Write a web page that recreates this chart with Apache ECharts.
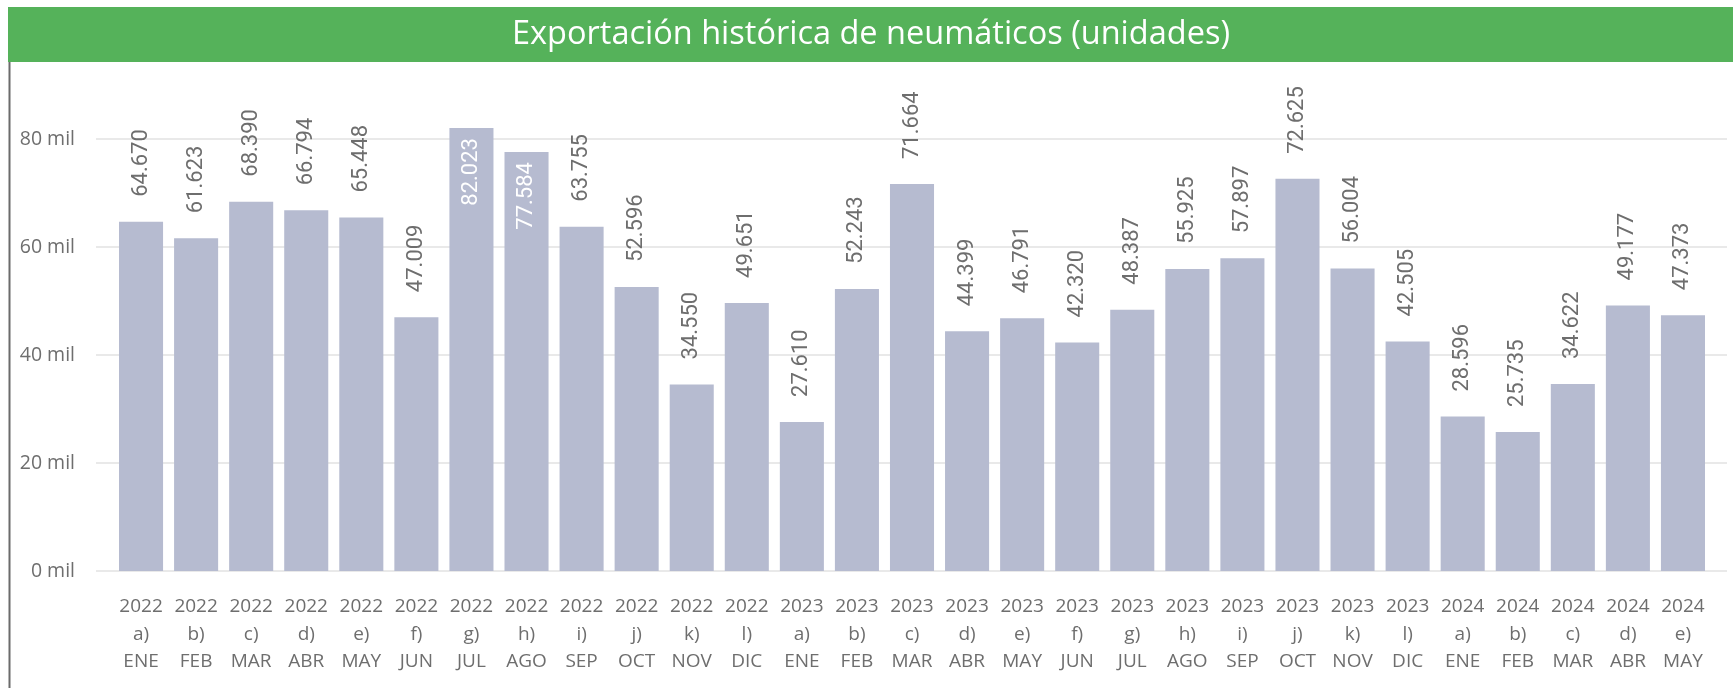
<!DOCTYPE html>
<html lang="es">

<head>
    <meta charset="UTF-8">
    <title>Exportación histórica de neumáticos</title>
    <script src="https://cdn.jsdelivr.net/npm/echarts@6.0.0/dist/echarts.min.js"></script>
    <style>
        html, body { margin: 0; padding: 0; background: #fff; }
    </style>
</head>

<body>
    <div id="main" style="width: 1733px;height:688px;"></div>
    <script type="text/javascript">
        // data
        const years = ['2022', '2022', '2022', '2022', '2022', '2022', '2022', '2022', '2022', '2022', '2022', '2022',
            '2023', '2023', '2023', '2023', '2023', '2023', '2023', '2023', '2023', '2023', '2023', '2023',
            '2024', '2024', '2024', '2024', '2024']
        const letters = ['a)', 'b)', 'c)', 'd)', 'e)', 'f)', 'g)', 'h)', 'i)', 'j)', 'k)', 'l)',
            'a)', 'b)', 'c)', 'd)', 'e)', 'f)', 'g)', 'h)', 'i)', 'j)', 'k)', 'l)',
            'a)', 'b)', 'c)', 'd)', 'e)']
        const months = ['ENE', 'FEB', 'MAR', 'ABR', 'MAY', 'JUN', 'JUL', 'AGO', 'SEP', 'OCT', 'NOV', 'DIC',
            'ENE', 'FEB', 'MAR', 'ABR', 'MAY', 'JUN', 'JUL', 'AGO', 'SEP', 'OCT', 'NOV', 'DIC',
            'ENE', 'FEB', 'MAR', 'ABR', 'MAY']
        const units = [64670, 61623, 68390, 66794, 65448, 47009, 82023, 77584, 63755, 52596, 34550, 49651,
            27610, 52243, 71664, 44399, 46791, 42320, 48387, 55925, 57897, 72625, 56004, 42505,
            28596, 25735, 34622, 49177, 47373]
        const yTicks = [0, 20000, 40000, 60000, 80000]

        const titleText = 'Exportación histórica de neumáticos (unidades)'
        const barColor = '#b6bbd0'
        const textGray = '#6e6e6e'
        const insideFrom = 75000 // labels of taller bars go inside the bar

        // category labels: year / letter / month on three lines
        const categories = years.map((y, i) => y + '\n' + letters[i] + '\n' + months[i])

        // 64670 -> "64.670"
        function fmt(v) {
            return String(v).replace(/\B(?=(\d{3})+(?!\d))/g, '.')
        }

        const barData = units.map(v => {
            if (v >= insideFrom) {
                return {
                    value: v,
                    label: { position: 'insideTop', distance: 10, align: 'right', color: '#ffffff' }
                }
            }
            return v
        })

        const yMin = yTicks[0]
        const yMax = yTicks[yTicks.length - 1]
        const yStep = yTicks[1] - yTicks[0]

        let options = {
            animation: false,
            graphic: [
                {
                    type: 'rect', left: 7, top: 6, z: 0,
                    shape: { width: 1760, height: 720 },
                    style: { fill: 'none', stroke: '#6b6b6b', lineWidth: 2 }
                },
                {
                    type: 'rect', left: 8, top: 7, z: 1,
                    shape: { width: 1730, height: 55 },
                    style: { fill: '#55b25a' }
                },
                {
                    type: 'text', x: 871, y: 35, z: 2,
                    style: {
                        text: titleText, fill: '#ffffff', font: '32.5px "Open Sans"',
                        textAlign: 'center', textVerticalAlign: 'middle'
                    }
                }
            ],
            // grid 0 carries the y labels and the long split lines, grid 1 the bars
            grid: [
                { left: 96, right: 6, top: 139, bottom: 117 },
                { left: 113.5, right: 22.5, top: 139, bottom: 117 }
            ],
            xAxis: [
                { gridIndex: 0, type: 'category', data: categories, show: false },
                {
                    gridIndex: 1, type: 'category', data: categories,
                    axisLine: { show: false }, axisTick: { show: false },
                    axisLabel: {
                        interval: 0, margin: 22, color: textGray,
                        fontFamily: 'Open Sans', fontSize: 19, lineHeight: 27.5
                    }
                }
            ],
            yAxis: [
                {
                    gridIndex: 0, type: 'value', min: yMin, max: yMax, interval: yStep,
                    axisLine: { show: false }, axisTick: { show: false },
                    axisLabel: {
                        margin: 21, color: textGray, fontFamily: 'Open Sans', fontSize: 19.5,
                        formatter: v => (v / 1000) + ' mil'
                    },
                    splitLine: { lineStyle: { color: '#e9e9e9', width: 2 } }
                },
                {
                    gridIndex: 1, type: 'value', min: yMin, max: yMax, interval: yStep,
                    show: false, splitLine: { show: false }
                }
            ],
            series: [{
                name: 'unidades',
                type: 'bar',
                xAxisIndex: 1,
                yAxisIndex: 1,
                data: barData,
                clip: false,
                barCategoryGap: '20%',
                itemStyle: { color: barColor },
                label: {
                    show: true,
                    position: 'top',
                    distance: 25,
                    rotate: 90,
                    align: 'left',
                    verticalAlign: 'middle',
                    color: textGray,
                    fontFamily: 'Roboto',
                    fontSize: 22,
                    formatter: p => fmt(p.value)
                }
            }]
        };

        let myChart = echarts.init(document.getElementById('main'));
        myChart.setOption(options);
    </script>
</body>

</html>
